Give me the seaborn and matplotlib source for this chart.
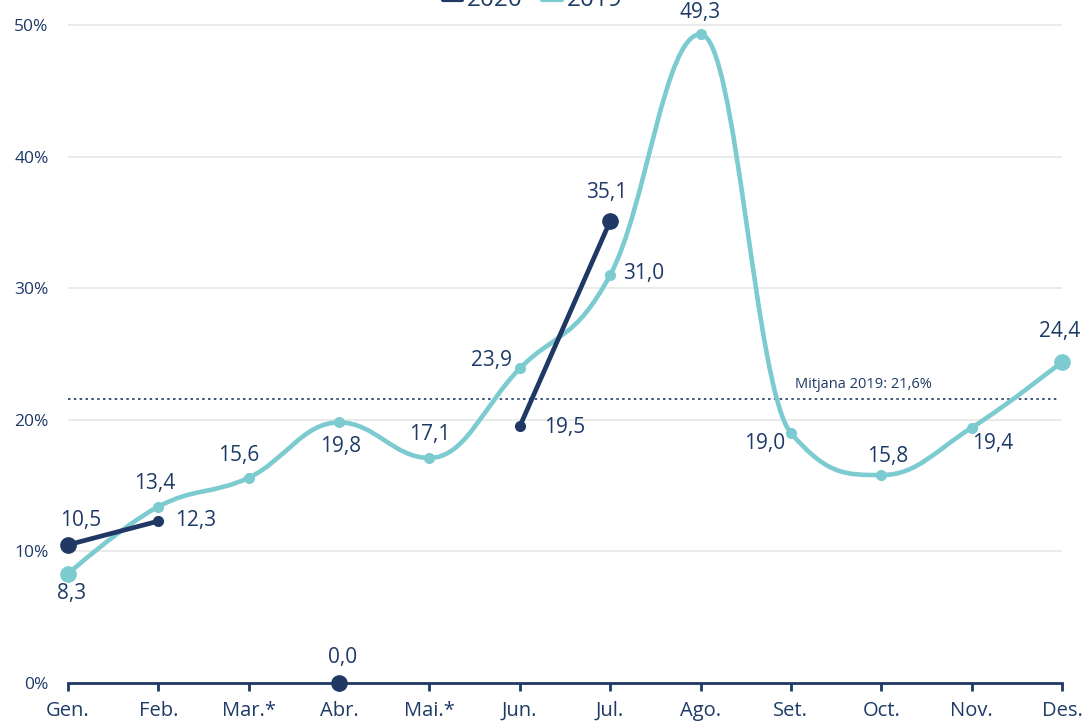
import numpy as np
import pandas as pd
import matplotlib
matplotlib.use("Agg")
import matplotlib.pyplot as plt
from matplotlib.path import Path
from matplotlib.patches import PathPatch
from matplotlib.lines import Line2D
import seaborn as sns

# Dades
mesos = ['Gen.', 'Feb.', 'Mar.*', 'Abr.', 'Mai.*', 'Jun.', 'Jul.', 'Ago.', 'Set.', 'Oct.', 'Nov.', 'Des.']
valors_2019 = [8.3, 13.4, 15.6, 19.8, 17.1, 23.9, 31.0, 49.3, 19.0, 15.8, 19.4, 24.4]
valors_2020 = [10.5, 12.3, np.nan, 0.0, np.nan, 19.5, 35.1, np.nan, np.nan, np.nan, np.nan, np.nan]
mitjana_2019 = 21.6

# estil (colors, mides de marcador, posicio de les etiquetes en px)
NAVY = '#1f3864'
TEAL = '#7ccbd0'
TXT = '#1e3a66'
mida_2019 = [11, 7, 7, 7, 7, 7, 7, 7, 7, 7, 7, 11]
mida_2020 = [11, 7, 0, 11, 0, 7, 11, 0, 0, 0, 0, 0]
off_2019 = [(4, -20), (-4, 23), (-10, 22), (2, -24), (0, 23), (-28, 8), (33, 2), (0, 22), (-26, -11), (6, 19), (21, -16), (-2, 30)]
off_2020 = [(13, 24), (37, 1), None, (3, 26), None, (45, -1), (-3, 29)]


def spline_path(xs, ys, smoothing=1.5):
    # corba suau a l'estil highcharts
    n = len(xs)
    denom = smoothing + 1
    right = [None] * n
    verts = [(xs[0], ys[0])]
    codes = [Path.MOVETO]
    for i in range(1, n):
        x, y = xs[i], ys[i]
        lx, ly = x, y
        if i < n - 1:
            px, py = xs[i - 1], ys[i - 1]
            nx, ny = xs[i + 1], ys[i + 1]
            lx = (smoothing * x + px) / denom
            ly = (smoothing * y + py) / denom
            rx = (smoothing * x + nx) / denom
            ry = (smoothing * y + ny) / denom
            corr = (ry - ly) * (rx - x) / (rx - lx) + y - ry
            ly += corr
            ry += corr
            if ly > py and ly > y:
                ly = max(py, y); ry = 2 * y - ly
            elif ly < py and ly < y:
                ly = min(py, y); ry = 2 * y - ly
            if ry > ny and ry > y:
                ry = max(ny, y); ly = 2 * y - ry
            elif ry < ny and ry < y:
                ry = min(ny, y); ly = 2 * y - ry
            right[i] = (rx, ry)
        c1 = right[i - 1] if right[i - 1] is not None else (xs[i - 1], ys[i - 1])
        verts += [c1, (lx, ly), (x, y)]
        codes += [Path.CURVE4] * 3
    return Path(verts, codes)


def fmt(v):
    return f"{v:.1f}".replace('.', ',')


sns.set_theme(style="white")
plt.rcParams['font.family'] = ['Open Sans', 'DejaVu Sans']

fig = plt.figure(figsize=(10.82, 7.26), dpi=100)
ax = fig.add_axes([68 / 1082, 43 / 726, 994 / 1082, 683 / 726])

x = np.arange(len(mesos))
df19 = pd.DataFrame({'x': x, 'y': valors_2019})
df20 = pd.DataFrame({'x': x, 'y': valors_2020})

ax.set_xlim(0, 11)
ax.set_ylim(0, 683 / 13.16)

# graella
for v in [10, 20, 30, 40, 50]:
    ax.axhline(v, color='#e6e6e6', lw=1.2, zorder=0)

# mitjana 2019
ax.plot([0, 10.95], [mitjana_2019, mitjana_2019], color=NAVY, ls=(0, (1.5, 2)), lw=1.2, zorder=1)
ax.text(8.05, mitjana_2019 + 0.55, 'Mitjana 2019: 21,6%', color=TXT, fontsize=10.5, ha='left', va='bottom')

# 2019 corba suau
ax.add_patch(PathPatch(spline_path(list(df19.x), list(df19.y)), fill=False, edgecolor=TEAL, lw=3.3,
                       capstyle='round', zorder=2, clip_on=False))
for i, r in df19.iterrows():
    ax.plot(r.x, r.y, 'o', color=TEAL, ms=mida_2019[i], zorder=3, clip_on=False)

# 2020 trams rectes
trams = [[0, 1], [5, 6]]
for t in trams:
    sns.lineplot(data=df20.iloc[t], x='x', y='y', color=NAVY, lw=3.4, ax=ax, zorder=4,
                 solid_capstyle='round')
for i, r in df20.iterrows():
    if not np.isnan(r.y):
        ax.plot(r.x, r.y, 'o', color=NAVY, ms=mida_2020[i], zorder=5, clip_on=False)

# etiquetes
for i, v in enumerate(valors_2019):
    ax.annotate(fmt(v), (i, v), xytext=(off_2019[i][0] * 0.72, off_2019[i][1] * 0.72),
                textcoords='offset points', ha='center', va='center', color=TXT, fontsize=15, zorder=6)
for i, v in enumerate(valors_2020):
    if not np.isnan(v):
        ax.annotate(fmt(v), (i, v), xytext=(off_2020[i][0] * 0.72, off_2020[i][1] * 0.72),
                    textcoords='offset points', ha='center', va='center', color=TXT, fontsize=15, zorder=6)

# eixos
ax.set_xticks(x)
ax.set_xticklabels(mesos)
ax.set_yticks([0, 10, 20, 30, 40, 50])
ax.set_yticklabels([f"{v}%" for v in [0, 10, 20, 30, 40, 50]])
ax.set_xlabel('')
ax.set_ylabel('')
for s in ['top', 'right', 'left']:
    ax.spines[s].set_visible(False)
ax.spines['bottom'].set_color(NAVY)
ax.spines['bottom'].set_linewidth(2)
ax.tick_params(axis='x', colors=NAVY, length=6, width=2, direction='out', bottom=True, labelsize=14.5,
               pad=7, labelcolor=TXT)
ax.tick_params(axis='y', length=0, labelsize=12.5, labelcolor=TXT, pad=14)

# llegenda (retallada a dalt)
handles = [Line2D([], [], color=NAVY, lw=3), Line2D([], [], color=TEAL, lw=3)]
leg = fig.legend(handles, ['2020', '2019'], loc='center', bbox_to_anchor=(0.492, 1.0), ncol=2,
                 frameon=False, fontsize=17.5, handlelength=0.8, columnspacing=0.8, handletextpad=0.2,
                 handleheight=0.1)
for t in leg.get_texts():
    t.set_color(TXT)

fig.savefig('out.png', dpi=100)
